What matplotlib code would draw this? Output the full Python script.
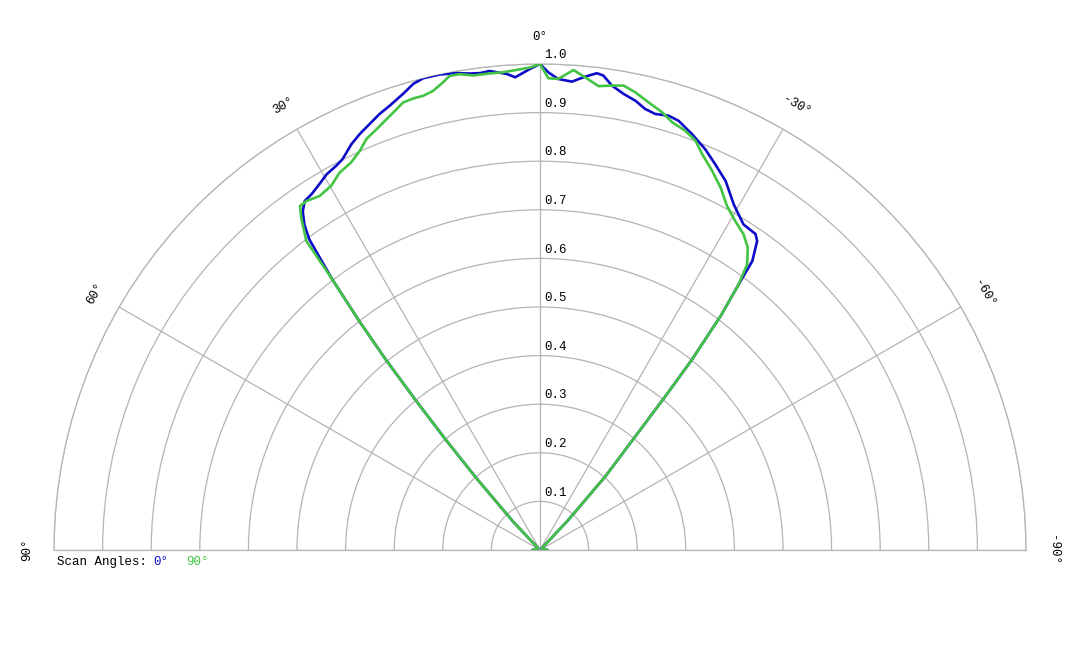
import numpy as np
import matplotlib
matplotlib.use('Agg')
import matplotlib.pyplot as plt

plt.rcParams['font.family'] = ['Liberation Mono', 'DejaVu Sans Mono']

# scan 0 deg (blue) - angle in degrees, relative intensity
theta_0 = [90, 46, 43.5, 41.5, 40.5, 39.7, 39.0, 38.3, 37.5, 36.6, 35.9, 35.0, 34.0, 32.7,
           31.1, 29.6, 27.9, 26.8, 24.9, 23.4, 21.8, 20.2, 18.7, 16.7, 15.2, 13.9, 11.9,
           9.9, 8.4, 7.2, 6.0, 4.0, 3.0, 1.2, 0, -1.0, -2.2, -3.9, -5.4, -6.8, -7.6, -8.8,
           -10.4, -12.0, -13.4, -14.8, -16.5, -17.9, -20.1, -22.4, -24.4, -26.7, -29.3,
           -32.0, -34.3, -35.1, -36.3, -36.8, -37.65, -38.6, -39.2, -40.0, -41.6, -43.3,
           -46, -90]
r_0 = [0.015, 0.005, 0.08, 0.2, 0.30, 0.40, 0.505, 0.60, 0.703, 0.796, 0.827, 0.851, 0.866,
       0.870, 0.879, 0.889, 0.895, 0.901, 0.921, 0.933, 0.944, 0.956, 0.965, 0.98, 0.994,
       1.0, 1.0, 0.996, 0.991, 0.989, 0.991, 0.982, 0.974, 0.99, 1.0, 0.983, 0.970, 0.966,
       0.978, 0.988, 0.985, 0.967, 0.954, 0.945, 0.933, 0.928, 0.932, 0.928, 0.911, 0.892,
       0.872, 0.850, 0.815, 0.790, 0.787, 0.777, 0.738, 0.682, 0.61, 0.50, 0.408, 0.305,
       0.202, 0.085, 0.005, 0.015]

# scan 90 deg (green)
theta_90 = [90, 46, 43.5, 41.5, 40.5, 39.7, 39.0, 38.3, 37.5, 37.1, 35.7, 34.9, 33.8, 31.9,
            29.8, 28.0, 26.0, 24.3, 22.9, 21.2, 19.6, 18.0, 17.0, 15.7, 14.4, 13.1, 11.7,
            10.8, 9.6, 8.0, 6.0, 4.4, 2.8, 1.2, 0, -1.0, -2.2, -4.0, -5.45, -7.2, -8.8,
            -10.2, -11.75, -13.6, -15.6, -17.2, -19.1, -20.8, -22.3, -24.4, -26.5, -28.5,
            -30.7, -32.8, -34.5, -35.95, -36.8, -37.65, -38.6, -39.2, -40.0, -41.6, -43.3,
            -46, -90]
r_90 = [0.015, 0.005, 0.08, 0.2, 0.30, 0.40, 0.505, 0.60, 0.703, 0.797, 0.842, 0.863, 0.864,
        0.858, 0.864, 0.879, 0.887, 0.901, 0.918, 0.929, 0.941, 0.954, 0.963, 0.965, 0.965,
        0.970, 0.983, 0.993, 0.993, 0.986, 0.986, 0.986, 0.989, 0.993, 1.0, 0.971, 0.970,
        0.990, 0.977, 0.962, 0.967, 0.971, 0.962, 0.948, 0.935, 0.921, 0.913, 0.901, 0.880,
        0.857, 0.833, 0.806, 0.787, 0.773, 0.755, 0.726, 0.682, 0.61, 0.50, 0.408, 0.305,
        0.202, 0.085, 0.005, 0.015]

r_ticks = [0.1, 0.2, 0.3, 0.4, 0.5, 0.6, 0.7, 0.8, 0.9, 1.0]
angle_ticks = [90, 60, 30, 0, -30, -60, -90]

blue = '#0c0cc8'
green = '#44c444'
grid_col = '#b4b4b4'

fig = plt.figure(figsize=(10.8, 6.48), dpi=100)
# square box: the half disc sits in its vertical middle
ax = fig.add_axes([54 / 1080, -145 / 648, 972 / 1080, 972 / 648], projection='polar')
ax.set_theta_zero_location('N')
ax.set_thetamin(-90)
ax.set_thetamax(90)
ax.set_ylim(0, 1.0)

# grid
ax.set_thetagrids(angle_ticks, labels=[''] * len(angle_ticks))
ax.set_rgrids(r_ticks, labels=[''] * len(r_ticks))
ax.grid(True, color=grid_col, lw=0.9)
for s in ax.spines.values():
    s.set_color(grid_col)
    s.set_linewidth(0.9)

# the two scans
ax.plot(np.deg2rad(theta_0), r_0, color=blue, lw=1.9, zorder=3)
ax.plot(np.deg2rad(theta_90), r_90, color=green, lw=1.9, zorder=4)

# radial labels along the 0 deg line
for r in r_ticks:
    ax.annotate(f'{r:.1f}', xy=(0, r), xytext=(3, 2), textcoords='offset points',
                ha='left', va='bottom', fontsize=9)

# angle labels, rotated along the circle
for a in angle_ticks:
    ax.text(np.deg2rad(a), 1.056, f'{a}°', rotation=a, rotation_mode='anchor',
            ha='center', va='center', fontsize=9)

# legend text
fig.text(57 / 1080, 1 - 562 / 648, 'Scan Angles:', fontsize=9, va='center', ha='left')
fig.text(153 / 1080, 1 - 562 / 648, '0°', fontsize=9, va='center', ha='left', color=blue)
fig.text(186 / 1080, 1 - 562 / 648, '90°', fontsize=9, va='center', ha='left', color=green)

fig.savefig('out.png', dpi=100)
